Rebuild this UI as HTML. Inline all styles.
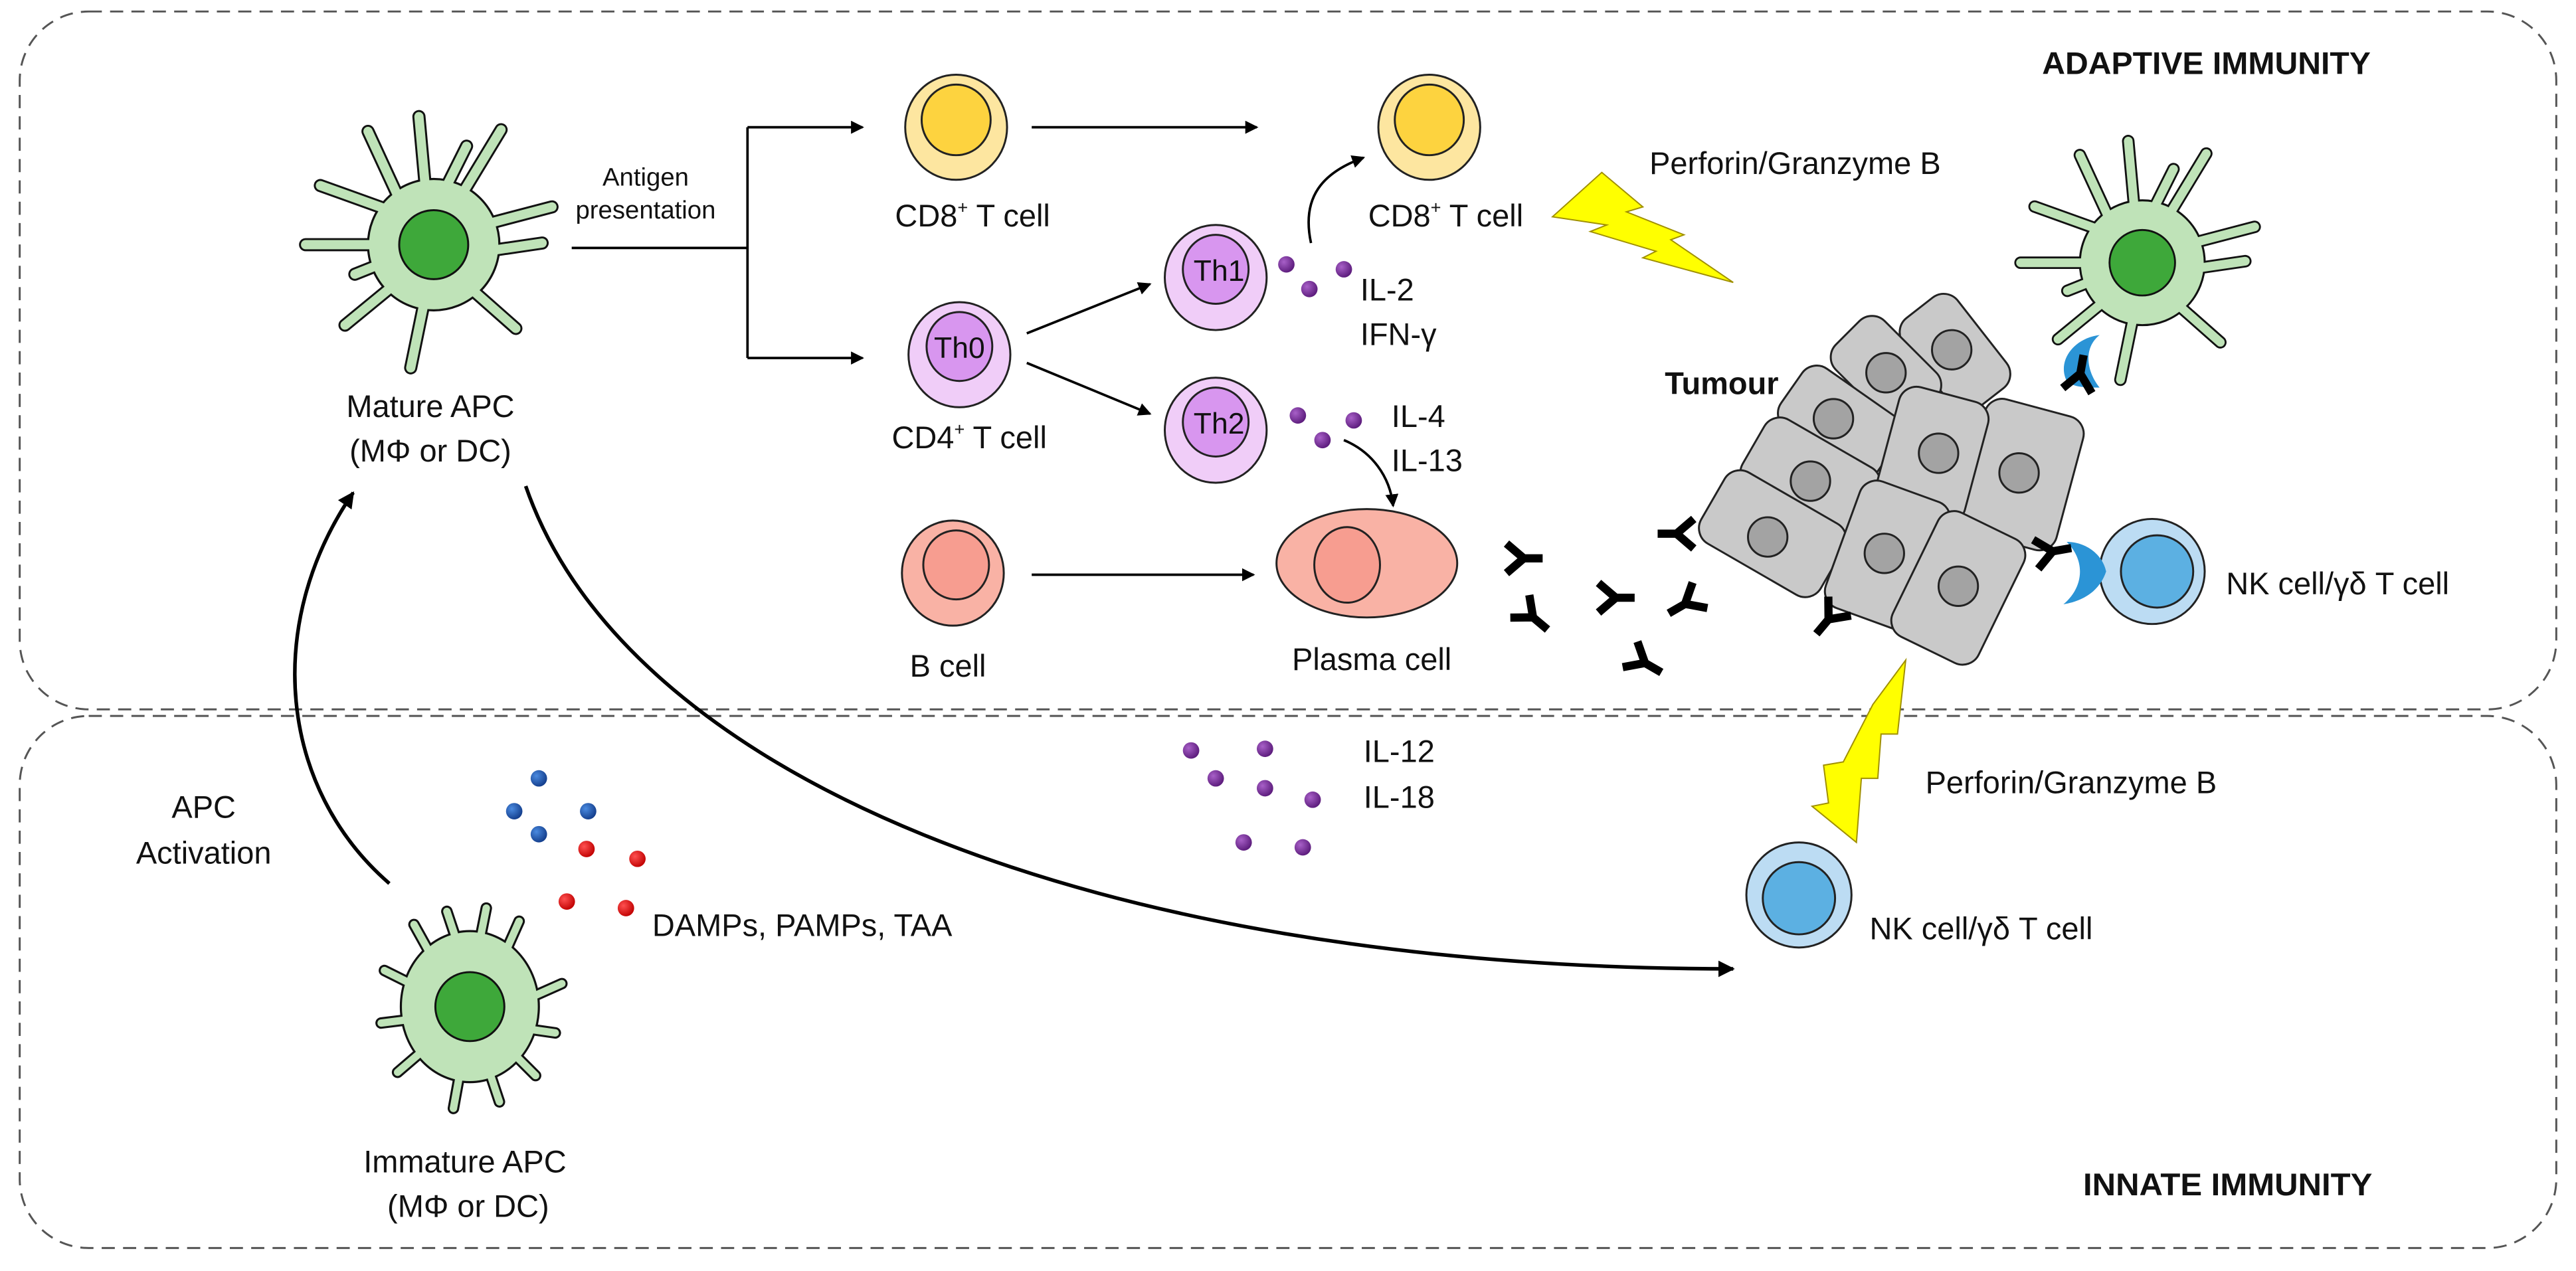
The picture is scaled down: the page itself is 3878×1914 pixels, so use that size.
<!DOCTYPE html>
<html><head><meta charset="utf-8"><style>
html,body{margin:0;padding:0;background:#fff;}
svg{display:block;}
text{font-family:"Liberation Sans",sans-serif;fill:#111;}
</style></head><body>
<svg width="3878" height="1914" viewBox="0 0 1568 774" preserveAspectRatio="none" xmlns="http://www.w3.org/2000/svg">
<defs>
<marker id="ar" markerWidth="8" markerHeight="8" refX="7" refY="4" orient="auto" markerUnits="userSpaceOnUse"><path d="M0,0 L8,4 L0,8 z" fill="#000"/></marker>
<marker id="ar2" markerWidth="10" markerHeight="10" refX="9" refY="5" orient="auto" markerUnits="userSpaceOnUse"><path d="M0,0 L10,5 L0,10 z" fill="#000"/></marker>
<radialGradient id="gp" cx="0.35" cy="0.35" r="0.7"><stop offset="0" stop-color="#a860c8"/><stop offset="1" stop-color="#5a1a7a"/></radialGradient>
<radialGradient id="gb" cx="0.35" cy="0.35" r="0.7"><stop offset="0" stop-color="#4a8ae0"/><stop offset="1" stop-color="#123c8a"/></radialGradient>
<radialGradient id="gr" cx="0.35" cy="0.35" r="0.7"><stop offset="0" stop-color="#ff5050"/><stop offset="1" stop-color="#c00000"/></radialGradient>
<g id="spk">
<path d="M-5,-34 L-9,-78 M-22,-30 L-40,-69 M18,-32 L41,-70 M8,-36 L20,-60 M-30,-22 L-69,-36 M30,-12 L72,-23 M-34,0 L-78,0 M32,4 L66,-1 M-26,26 L-54,49 M24,28 L50,51 M-6,36 L-14,75 M-33,12 L-48,18" />
</g>
<g id="apc">
<use href="#spk" stroke="#111" stroke-width="8" stroke-linecap="round" fill="none"/>
<circle r="40" fill="#bfe3b8" stroke="#111" stroke-width="1.3"/>
<use href="#spk" stroke="#bfe3b8" stroke-width="5.6" stroke-linecap="round" fill="none"/>
<circle r="21" fill="#3ea83a" stroke="#111" stroke-width="1.2"/>
</g>
<g id="spk2">
<path d="M-8,-40 L-14,-58 M6,-40 L10,-60 M22,-34 L30,-52 M-24,-32 L-34,-50 M-36,-14 L-52,-22 M38,-6 L56,-14 M-38,8 L-54,10 M38,14 L52,16 M-30,28 L-44,40 M28,30 L40,42 M-6,40 L-10,62 M12,40 L18,58" />
</g>
<g id="apc2">
<use href="#spk2" stroke="#111" stroke-width="7" stroke-linecap="round" fill="none"/>
<ellipse rx="42" ry="46" fill="#bfe3b8" stroke="#111" stroke-width="1.3"/>
<use href="#spk2" stroke="#bfe3b8" stroke-width="4.5" stroke-linecap="round" fill="none"/>
<circle r="21" fill="#3ea83a" stroke="#111" stroke-width="1.2"/>
</g>
<g id="ab"><path d="M0,13 L0,0 M0,1.5 L-9,-9 M0,1.5 L9,-9" stroke="#000" stroke-width="5" fill="none"/></g>
</defs>

<!-- boxes -->
<rect x="12" y="7" width="1544" height="425" rx="42" fill="none" stroke="#555" stroke-width="1.2" stroke-dasharray="8,5"/>
<rect x="12" y="436" width="1544" height="324" rx="42" fill="none" stroke="#555" stroke-width="1.2" stroke-dasharray="8,5"/>
<text x="1343" y="45" font-size="19" font-weight="bold" text-anchor="middle" textLength="200" lengthAdjust="spacingAndGlyphs">ADAPTIVE IMMUNITY</text>
<text x="1356" y="728" font-size="19" font-weight="bold" text-anchor="middle" textLength="176" lengthAdjust="spacingAndGlyphs">INNATE IMMUNITY</text>

<!-- mature APC -->
<use href="#apc" x="264" y="149"/>
<text x="262" y="254" font-size="19" text-anchor="middle">Mature APC</text>
<text x="262" y="281" font-size="19" text-anchor="middle">(MΦ or DC)</text>

<text x="393" y="113" font-size="15.5" text-anchor="middle">Antigen</text>
<text x="393" y="133" font-size="15.5" text-anchor="middle">presentation</text>
<path d="M348,151 L455,151" stroke="#000" stroke-width="1.5"/>
<path d="M455,77.5 L455,218" stroke="#000" stroke-width="1.5"/>
<path d="M455,77.5 L525,77.5" stroke="#000" stroke-width="1.5" marker-end="url(#ar)"/>
<path d="M455,218 L525,218" stroke="#000" stroke-width="1.5" marker-end="url(#ar)"/>

<!-- CD8 cells -->
<g stroke="#222" stroke-width="1.2">
<ellipse cx="582" cy="77.5" rx="31" ry="32" fill="#fde6a0"/>
<ellipse cx="582" cy="73" rx="21" ry="21.5" fill="#fdd33f"/>
<ellipse cx="870" cy="77.5" rx="31" ry="32" fill="#fde6a0"/>
<ellipse cx="870" cy="73" rx="21" ry="21.5" fill="#fdd33f"/>
</g>
<text x="592" y="138" font-size="19" text-anchor="middle">CD8<tspan font-size="11" dy="-8">+</tspan><tspan dy="8"> T cell</tspan></text>
<text x="880" y="138" font-size="19" text-anchor="middle">CD8<tspan font-size="11" dy="-8">+</tspan><tspan dy="8"> T cell</tspan></text>
<path d="M628,77.5 L765,77.5" stroke="#000" stroke-width="1.5" marker-end="url(#ar)"/>

<!-- Th cells -->
<g stroke="#222" stroke-width="1.2">
<ellipse cx="584" cy="216" rx="31" ry="32" fill="#f0cdf8"/>
<ellipse cx="584" cy="211" rx="20" ry="21" fill="#d896ef"/>
<ellipse cx="740" cy="169" rx="31" ry="32" fill="#f0cdf8"/>
<ellipse cx="740" cy="164" rx="20" ry="21" fill="#d896ef"/>
<ellipse cx="740" cy="262" rx="31" ry="32" fill="#f0cdf8"/>
<ellipse cx="740" cy="257" rx="20" ry="21" fill="#d896ef"/>
</g>
<text x="584" y="218" font-size="18" text-anchor="middle">Th0</text>
<text x="742" y="171" font-size="18" text-anchor="middle">Th1</text>
<text x="742" y="264" font-size="18" text-anchor="middle">Th2</text>
<text x="590" y="273" font-size="19" text-anchor="middle">CD4<tspan font-size="11" dy="-8">+</tspan><tspan dy="8"> T cell</tspan></text>
<path d="M625,203 L700,173" stroke="#000" stroke-width="1.5" marker-end="url(#ar)"/>
<path d="M625,221 L700,252" stroke="#000" stroke-width="1.5" marker-end="url(#ar)"/>

<!-- cytokine dots -->
<g>
<circle cx="783" cy="161" r="5" fill="url(#gp)"/><circle cx="818" cy="164" r="5" fill="url(#gp)"/><circle cx="797" cy="176" r="5" fill="url(#gp)"/>
<circle cx="790" cy="253" r="5" fill="url(#gp)"/><circle cx="824" cy="256" r="5" fill="url(#gp)"/><circle cx="805" cy="268" r="5" fill="url(#gp)"/>
<circle cx="725" cy="457" r="5" fill="url(#gp)"/><circle cx="770" cy="456" r="5" fill="url(#gp)"/><circle cx="740" cy="474" r="5" fill="url(#gp)"/><circle cx="770" cy="480" r="5" fill="url(#gp)"/><circle cx="799" cy="487" r="5" fill="url(#gp)"/><circle cx="757" cy="513" r="5" fill="url(#gp)"/><circle cx="793" cy="516" r="5" fill="url(#gp)"/>
<circle cx="328" cy="474" r="5" fill="url(#gb)"/><circle cx="313" cy="494" r="5" fill="url(#gb)"/><circle cx="358" cy="494" r="5" fill="url(#gb)"/><circle cx="328" cy="508" r="5" fill="url(#gb)"/>
<circle cx="357" cy="517" r="5" fill="url(#gr)"/><circle cx="388" cy="523" r="5" fill="url(#gr)"/><circle cx="345" cy="549" r="5" fill="url(#gr)"/><circle cx="381" cy="553" r="5" fill="url(#gr)"/>
</g>
<text x="828" y="183" font-size="19">IL-2</text>
<text x="828" y="210" font-size="19">IFN-γ</text>
<text x="847" y="260" font-size="19">IL-4</text>
<text x="847" y="287" font-size="19">IL-13</text>
<path d="M798,148 C792,120 805,105 830,96" stroke="#000" stroke-width="1.5" fill="none" marker-end="url(#ar)"/>
<path d="M818,268 C835,275 846,290 848,308" stroke="#000" stroke-width="1.5" fill="none" marker-end="url(#ar)"/>

<!-- B / plasma -->
<g stroke="#222" stroke-width="1.2">
<ellipse cx="580" cy="349" rx="31" ry="32" fill="#f9b2a5"/>
<ellipse cx="582" cy="344" rx="20" ry="21" fill="#f79d90"/>
<ellipse cx="832" cy="343" rx="55" ry="33" fill="#f9b2a5"/>
<ellipse cx="820" cy="344" rx="20" ry="23" fill="#f79d90"/>
</g>
<text x="577" y="412" font-size="19" text-anchor="middle">B cell</text>
<text x="835" y="408" font-size="19" text-anchor="middle">Plasma cell</text>
<path d="M628,350 L763,350" stroke="#000" stroke-width="1.5" marker-end="url(#ar)"/>

<!-- top bolt -->
<polygon points="975,105 1000,126 990,129 1025,143 1017,146 1055,172 1000,157 1008,153 968,141 978,137 945,132" fill="#ffff00" stroke="#a09000" stroke-width="0.8"/>
<text x="1004" y="106" font-size="19">Perforin/Granzyme B</text>

<!-- tumour -->
<text x="1048" y="240" font-size="19" font-weight="bold" text-anchor="middle">Tumour</text>
<g fill="#c9c9c9" stroke="#222" stroke-width="1.2">
<rect x="-35" y="-21" width="70" height="42" rx="11" transform="translate(1190,215) rotate(52)"/>
<rect x="-33" y="-21" width="66" height="42" rx="11" transform="translate(1148,226) rotate(45)"/>
<rect x="-36" y="-22" width="72" height="44" rx="11" transform="translate(1120,257) rotate(35)"/>
<rect x="-40" y="-24" width="80" height="48" rx="11" transform="translate(1102,291) rotate(30)"/>
<rect x="-42" y="-25" width="84" height="50" rx="11" transform="translate(1079,325) rotate(30)"/>
<rect x="-42" y="-31" width="84" height="62" rx="11" transform="translate(1230,289) rotate(-75)"/>
<rect x="-38" y="-28" width="76" height="56" rx="11" transform="translate(1176,277) rotate(-75)"/>
<rect x="-41" y="-29" width="82" height="58" rx="11" transform="translate(1149,338) rotate(-70)"/>
<rect x="-42" y="-29" width="84" height="58" rx="11" transform="translate(1192,358) rotate(-64)"/>
</g>
<g fill="#a3a3a3" stroke="#222" stroke-width="1.2">
<circle cx="1188" cy="213" r="12"/><circle cx="1148" cy="227" r="12"/><circle cx="1116" cy="255" r="12"/>
<circle cx="1102" cy="293" r="12"/><circle cx="1076" cy="327" r="12"/><circle cx="1180" cy="276" r="12"/>
<circle cx="1229" cy="288" r="12"/><circle cx="1147" cy="337" r="12"/><circle cx="1192" cy="357" r="12"/>
</g>

<!-- right APC and NK -->
<use href="#apc" transform="translate(1304,160) scale(0.95)"/>
<path d="M1258,232 C1252,220 1262,206 1278,204 C1268,212 1270,226 1278,236 C1270,236 1262,236 1258,232 z" fill="#2b94d6"/>
<g stroke="#222" stroke-width="1.2">
<circle cx="1310" cy="348" r="32" fill="#bcdcf3"/>
<circle cx="1313" cy="348" r="22" fill="#5cb0e2"/>
</g>
<path d="M1258,330 C1270,330 1280,338 1282,348 C1278,360 1268,366 1256,368 C1268,358 1270,342 1258,330 z" fill="#2b94d6"/>
<text x="1355" y="362" font-size="19">NK cell/γδ T cell</text>

<!-- antibodies -->
<use href="#ab" transform="translate(1266,229) rotate(190)"/>
<use href="#ab" transform="translate(1248,336) rotate(-100)"/>
<use href="#ab" transform="translate(1114,376) rotate(40)"/>
<use href="#ab" transform="translate(1022,325) rotate(90)"/>
<use href="#ab" transform="translate(926,340) rotate(-90)"/>
<use href="#ab" transform="translate(932,375) rotate(-50)"/>
<use href="#ab" transform="translate(982,364) rotate(-90)"/>
<use href="#ab" transform="translate(1027,367) rotate(60)"/>
<use href="#ab" transform="translate(1000,403) rotate(-60)"/>

<!-- bottom bolt -->
<polygon points="1160,402 1155,447 1145,447 1143,474 1133,474 1130,513 1103,491 1113,489 1110,466 1122,464 1140,429" fill="#ffff00" stroke="#a09000" stroke-width="0.8"/>
<text x="1172" y="483" font-size="19">Perforin/Granzyme B</text>

<!-- bottom NK -->
<g stroke="#222" stroke-width="1.2">
<circle cx="1095" cy="545" r="32" fill="#bcdcf3"/>
<circle cx="1095" cy="547" r="22" fill="#5cb0e2"/>
</g>
<text x="1138" y="572" font-size="19">NK cell/γδ T cell</text>

<!-- big arrows -->
<path d="M237,538 C170,480 160,380 215,300" stroke="#000" stroke-width="2.2" fill="none" marker-end="url(#ar2)"/>
<path d="M320,296 C380,470 660,590 1055,590" stroke="#000" stroke-width="2.2" fill="none" marker-end="url(#ar2)"/>
<text x="124" y="498" font-size="19" text-anchor="middle">APC</text>
<text x="124" y="526" font-size="19" text-anchor="middle">Activation</text>
<text x="397" y="570" font-size="19">DAMPs, PAMPs, TAA</text>
<text x="830" y="464" font-size="19">IL-12</text>
<text x="830" y="492" font-size="19">IL-18</text>

<!-- immature APC -->
<use href="#apc2" x="286" y="613"/>
<text x="283" y="714" font-size="19" text-anchor="middle">Immature APC</text>
<text x="285" y="741" font-size="19" text-anchor="middle">(MΦ or DC)</text>
</svg>
</body></html>
